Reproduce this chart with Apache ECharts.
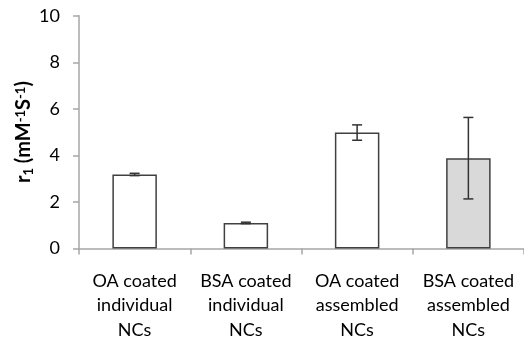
<!DOCTYPE html>
<html><head><meta charset="utf-8">
<script src="https://cdn.jsdelivr.net/npm/echarts@6/dist/echarts.min.js"></script>
<style>html,body{margin:0;padding:0;background:#fff}#c{width:524px;height:341px}</style>
</head><body><div id="c"></div>
<script>
var categories = ['OA coated\nindividual\nNCs', 'BSA coated\nindividual\nNCs', 'OA coated\nassembled\nNCs', 'BSA coated\nassembled\nNCs'];
var values = [3.18, 1.10, 4.98, 3.88];
var errors = [0.05, 0.03, 0.33, 1.75];
var fills = ['#ffffff', '#ffffff', '#ffffff', '#d9d9d9'];
var yTicks = [0, 2, 4, 6, 8, 10];

var font = 'Lato, "Open Sans", sans-serif';
var chart = echarts.init(document.getElementById('c'));
var big = {fontFamily: font, fontSize: 20, fontWeight: 'bold', color: '#000', lineHeight: 28, verticalAlign: 'middle'};
var sup = {fontFamily: font, fontSize: 13, fontWeight: 'bold', color: '#000', lineHeight: 28, verticalAlign: 'top', padding: [4, 0, 0, 0]};
var sub = {fontFamily: font, fontSize: 13, fontWeight: 'bold', color: '#000', lineHeight: 28, verticalAlign: 'bottom', padding: [0, 0, 3, 0]};
chart.setOption({
  animation: false,
  grid: {left: 79, right: 0, top: 15.7, bottom: 92.5, containLabel: false, outerBoundsMode: 'none'},
  xAxis: {
    type: 'category', data: categories,
    axisLine: {lineStyle: {color: '#a6a6a6', width: 1.5}},
    axisTick: {show: true, length: 6, lineStyle: {color: '#a6a6a6', width: 1.5}},
    axisLabel: {color: '#000', fontFamily: font, fontSize: 18, lineHeight: 24.5, margin: 20, interval: 0}
  },
  yAxis: {
    type: 'value', min: yTicks[0], max: yTicks[yTicks.length - 1], interval: 2,
    name: '{b|r}{sb|1}{b| (mM}{sp|-1}{b|S}{sp|-1}{b|)}', nameLocation: 'middle', nameRotate: 90, nameGap: 41,
    nameMoveOverlap: false,
    nameTextStyle: {rich: {b: big, sb: sub, sp: sup}},
    axisLine: {show: true, lineStyle: {color: '#a6a6a6', width: 1.5}},
    axisTick: {show: true, length: 6, lineStyle: {color: '#a6a6a6', width: 1.5}},
    splitLine: {show: false},
    axisLabel: {color: '#000', fontFamily: font, fontSize: 18, margin: 19,
      formatter: function (v) { return yTicks.indexOf(v) >= 0 ? String(v) : ''; }}
  },
  series: [{
    type: 'bar', barWidth: '40%',
    data: values.map(function (v, i) { return {value: v, itemStyle: {color: fills[i]}}; }),
    itemStyle: {borderColor: '#404040', borderWidth: 1.5}
  }, {
    type: 'custom',
    data: values.map(function (v, i) { return [i, v - errors[i], v + errors[i]]; }),
    renderItem: function (params, api) {
      var lo = api.coord([api.value(0), api.value(1)]);
      var hi = api.coord([api.value(0), api.value(2)]);
      var x = lo[0], hw = 5;
      var st = {stroke: '#333', lineWidth: 1.5, fill: null};
      return {type: 'group', children: [
        {type: 'line', shape: {x1: x, y1: lo[1], x2: x, y2: hi[1]}, style: st},
        {type: 'line', shape: {x1: x - hw, y1: lo[1], x2: x + hw, y2: lo[1]}, style: st},
        {type: 'line', shape: {x1: x - hw, y1: hi[1], x2: x + hw, y2: hi[1]}, style: st}
      ]};
    },
    z: 10
  }]
});
</script></body></html>
